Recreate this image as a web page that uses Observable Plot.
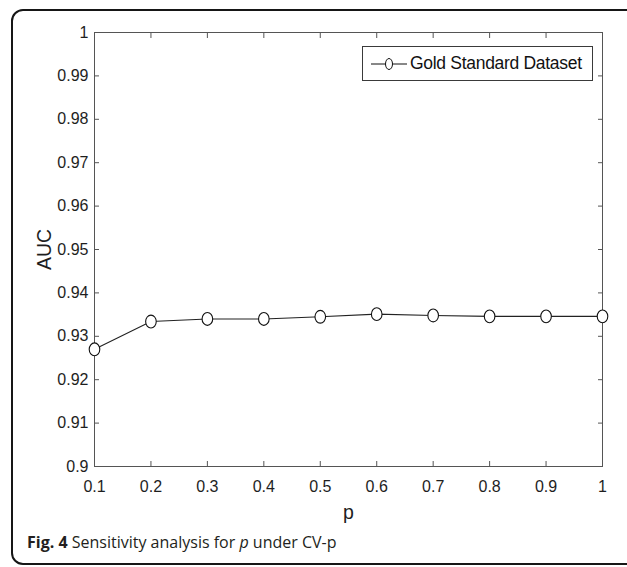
<!DOCTYPE html>
<html>
<head>
<meta charset="utf-8">
<script src="https://cdn.jsdelivr.net/npm/d3@7"></script>
<script src="https://cdn.jsdelivr.net/npm/@observablehq/plot@0.6"></script>
<style>
  html, body { margin: 0; padding: 0; background: #fff; }
  body { width: 627px; height: 567px; position: relative; overflow: hidden; font-family: "Liberation Sans", Arial, sans-serif; }
  #frame { position: absolute; left: 11px; top: 9px; width: 650px; height: 556px; border: 2px solid #161616; border-radius: 12px; box-sizing: border-box; }
  #chart { position: absolute; left: 0; top: 0; }
  #legend { position: absolute; left: 362px; top: 46px; width: 231px; height: 35px; border: 1px solid #3a3a3a; background: #fff; box-sizing: border-box; }
  #legend svg { position: absolute; left: 0; top: 0; }
  #legend span { position: absolute; left: 47px; top: 6px; font-size: 17.5px; color: #111; white-space: nowrap; letter-spacing: -0.3px; }
  #caption { position: absolute; left: 27px; top: 531px; font-family: "Open Sans", sans-serif; font-size: 16px; color: #231f20; white-space: nowrap; }
  #caption b { font-weight: 700; }
</style>
</head>
<body>
<div id="frame"></div>
<div id="chart"></div>
<div id="legend">
  <svg width="60" height="33">
    <line x1="8" y1="17" x2="44" y2="17" stroke="#111" stroke-width="1"></line>
    <ellipse cx="26" cy="17" rx="3.5" ry="5.5" fill="#fff" stroke="#111" stroke-width="1"></ellipse>
  </svg>
  <span>Gold Standard Dataset</span>
</div>
<div id="caption"><b>Fig. 4</b> Sensitivity analysis for <i>p</i> under CV-p</div>
<script>
const pValues = [0.1, 0.2, 0.3, 0.4, 0.5, 0.6, 0.7, 0.8, 0.9, 1.0];
const aucValues = [0.9270, 0.9334, 0.9340, 0.9340, 0.9345, 0.9351, 0.9348, 0.9346, 0.9346, 0.9346];
const xTicks = [0.1, 0.2, 0.3, 0.4, 0.5, 0.6, 0.7, 0.8, 0.9, 1];
const yTicks = [0.9, 0.91, 0.92, 0.93, 0.94, 0.95, 0.96, 0.97, 0.98, 0.99, 1];
const seriesName = "Gold Standard Dataset";

const data = pValues.map((p, i) => ({p, auc: aucValues[i]}));

const ellipseSymbol = {
  draw(context) {
    const rx = 5.3, ry = 6.4, k = 0.5523;
    context.moveTo(rx, 0);
    context.bezierCurveTo(rx, k * ry, k * rx, ry, 0, ry);
    context.bezierCurveTo(-k * rx, ry, -rx, k * ry, -rx, 0);
    context.bezierCurveTo(-rx, -k * ry, -k * rx, -ry, 0, -ry);
    context.bezierCurveTo(k * rx, -ry, rx, -k * ry, rx, 0);
    context.closePath();
  }
};

const fmt = d => String(+d.toFixed(2));
const axisColor = "#555";
const textColor = "#1e1e1e";
const font = "'Liberation Sans', Arial, sans-serif";

const chart = Plot.plot({
  width: 627,
  height: 567,
  marginLeft: 94,
  marginRight: 25,
  marginTop: 32,
  marginBottom: 101,
  style: {fontFamily: font, color: textColor, background: "transparent"},
  x: {domain: [0.1, 1]},
  y: {domain: [0.9, 1]},
  marks: [
    Plot.frame({stroke: axisColor, strokeWidth: 1}),
    Plot.axisX(xTicks, {anchor: "bottom", tickSize: -5, tickFormat: () => "", stroke: axisColor, label: null}),
    Plot.axisX(xTicks, {anchor: "top", tickSize: -5, tickFormat: () => "", stroke: axisColor, label: null}),
    Plot.axisY(yTicks, {anchor: "left", tickSize: -5, tickFormat: () => "", stroke: axisColor, label: null}),
    Plot.axisY(yTicks, {anchor: "right", tickSize: -5, tickFormat: () => "", stroke: axisColor, label: null}),
    Plot.text(xTicks, {x: d => d, frameAnchor: "bottom", lineAnchor: "middle", textAnchor: "middle", dy: 20, text: fmt, fontSize: 16, fill: textColor, fontFamily: font}),
    Plot.text(yTicks, {y: d => d, frameAnchor: "left", lineAnchor: "middle", textAnchor: "end", dx: -6, text: fmt, fontSize: 16, fill: textColor, fontFamily: font}),
    Plot.text(["AUC"], {frameAnchor: "left", textAnchor: "middle", lineAnchor: "middle", rotate: -90, dx: -50, fontSize: 19.5, fill: textColor, fontFamily: font}),
    Plot.text(["p"], {frameAnchor: "bottom", textAnchor: "middle", lineAnchor: "middle", dy: 46, fontSize: 19.5, fill: textColor, fontFamily: font}),
    Plot.line(data, {x: "p", y: "auc", stroke: "#222", strokeWidth: 1.1}),
    Plot.dot(data, {x: "p", y: "auc", symbol: ellipseSymbol, r: 6, fill: "#fff", stroke: "#111", strokeWidth: 1.1})
  ]
});
document.getElementById("chart").appendChild(chart);
</script>
</body>
</html>
